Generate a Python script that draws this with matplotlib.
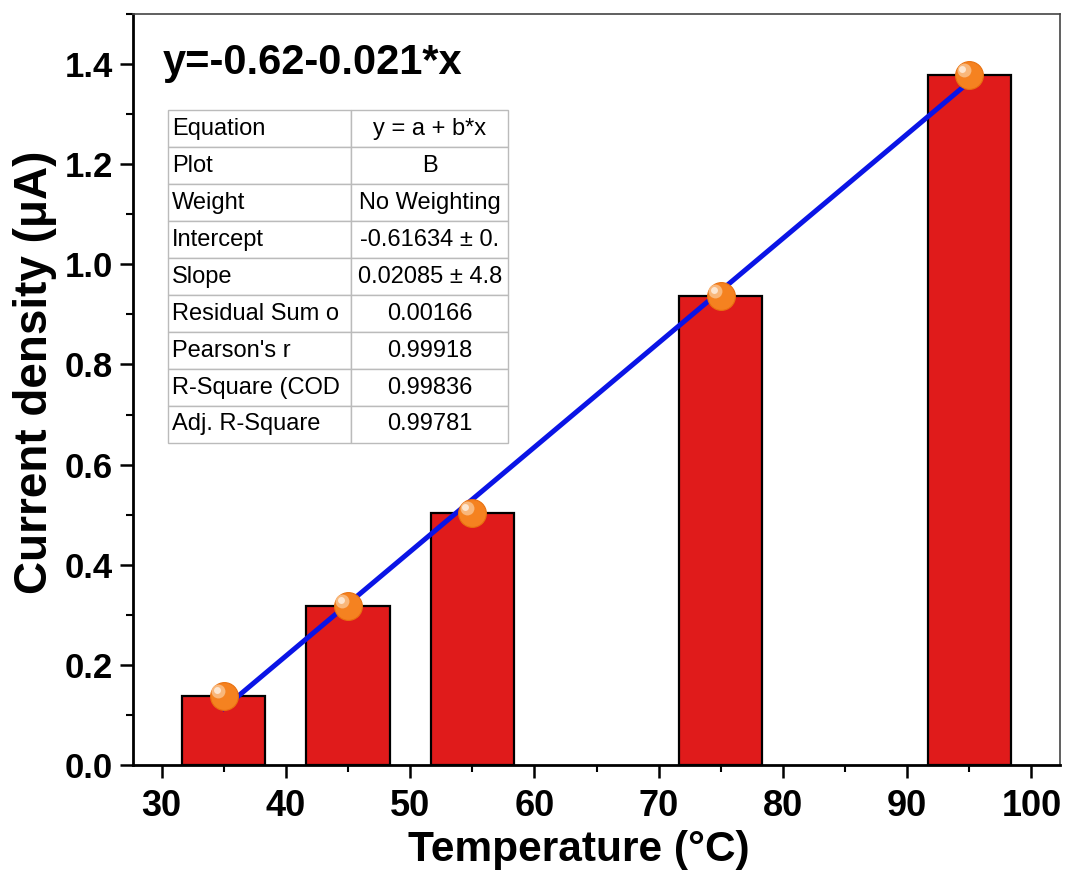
import matplotlib
matplotlib.use("Agg")
import matplotlib.pyplot as plt
import numpy as np
from matplotlib.ticker import MultipleLocator, FormatStrFormatter

plt.rcParams['font.family'] = ['Liberation Sans', 'DejaVu Sans']

# Data
temperature = [35, 45, 55, 75, 95]
current = [0.137, 0.317, 0.503, 0.936, 1.378]

# Fit parameters (from the fit table)
intercept = -0.61634
slope = 0.02085

fit_labels = ["Equation", "Plot", "Weight", "Intercept", "Slope",
              "Residual Sum o", "Pearson's r", "R-Square (COD", "Adj. R-Square"]
fit_values = ["y = a + b*x", "B", "No Weighting", "-0.61634 \u00b1 0.",
              "0.02085 \u00b1 4.8", "0.00166", "0.99918", "0.99836", "0.99781"]

fig = plt.figure(figsize=(10.65, 8.73), dpi=100)
ax = fig.add_axes([0.1249, 0.1237, 0.8704, 0.8603])

# Bars
ax.bar(temperature, current, width=6.7, color="#e01b1b", edgecolor="black",
       linewidth=1.6, zorder=2)

# Linear fit line
xfit = np.array([temperature[0], temperature[-1]])
ax.plot(xfit, intercept + slope * xfit, color="#0a14e6", linewidth=3.6, zorder=3)

# Sphere-like markers
tx = np.array(temperature)
cy = np.array(current)
ax.plot(tx, cy, "o", color="#f58220", markersize=20,
        markeredgecolor="#e8700f", markeredgewidth=0.8, zorder=4)
ax.plot(tx - 0.45, cy + 0.01, "o", color="#f9b77a", markersize=10,
        markeredgewidth=0, zorder=5)
ax.plot(tx - 0.55, cy + 0.013, "o", color="#fde6d0", markersize=5,
        markeredgewidth=0, zorder=6)

ax.set_xlim(27.7, 102.3)
ax.set_ylim(0, 1.5)
ax.xaxis.set_major_locator(MultipleLocator(10))
ax.xaxis.set_minor_locator(MultipleLocator(5))
ax.set_yticks(np.arange(0, 1.41, 0.2))
ax.yaxis.set_minor_locator(MultipleLocator(0.1))
ax.yaxis.set_major_formatter(FormatStrFormatter("%.1f"))
ax.tick_params(which="major", direction="out", length=9.5, width=1.8)
ax.tick_params(axis="x", which="major", labelsize=26, pad=8)
ax.tick_params(axis="y", which="major", labelsize=25, pad=5)
ax.tick_params(which="minor", direction="out", length=5, width=1.5)
ax.tick_params(top=False, right=False)
for lbl in ax.get_xticklabels() + ax.get_yticklabels():
    lbl.set_fontweight("bold")

for side in ["left", "bottom"]:
    ax.spines[side].set_linewidth(2)
    ax.spines[side].set_color("black")
for side in ["top", "right"]:
    ax.spines[side].set_linewidth(1.2)
    ax.spines[side].set_color("#444444")

ax.set_xlabel("Temperature (\u00b0C)", fontsize=30.5, fontweight="bold")
ax.set_ylabel("Current density (\u03bcA)", fontsize=33, fontweight="bold")
ax.xaxis.set_label_coords(0.481, -0.1125)
ax.yaxis.set_label_coords(-0.1057, 0.523)
ax.xaxis.label.set_va("center")
ax.yaxis.label.set_va("center")

ax.text(0.032, 0.935, "y=-0.62-0.021*x", transform=ax.transAxes,
        fontsize=30, fontweight="bold", ha="left", va="center")

# Fit table
cells = [[a, b] for a, b in zip(fit_labels, fit_values)]
tbl = ax.table(cellText=cells, colWidths=[0.538, 0.462],
               bbox=[0.0378, 0.4288, 0.367, 0.443], zorder=7)
tbl.auto_set_font_size(False)
tbl.set_fontsize(17)
for (r, c), cell in tbl.get_celld().items():
    cell.set_edgecolor("#bbbbbb")
    cell.set_linewidth(1)
    cell.set_facecolor("white")
    if c == 0:
        cell.get_text().set_ha("left")
        cell.PAD = 0.02
    else:
        cell.get_text().set_ha("center")

fig.savefig("out.png", dpi=100)
